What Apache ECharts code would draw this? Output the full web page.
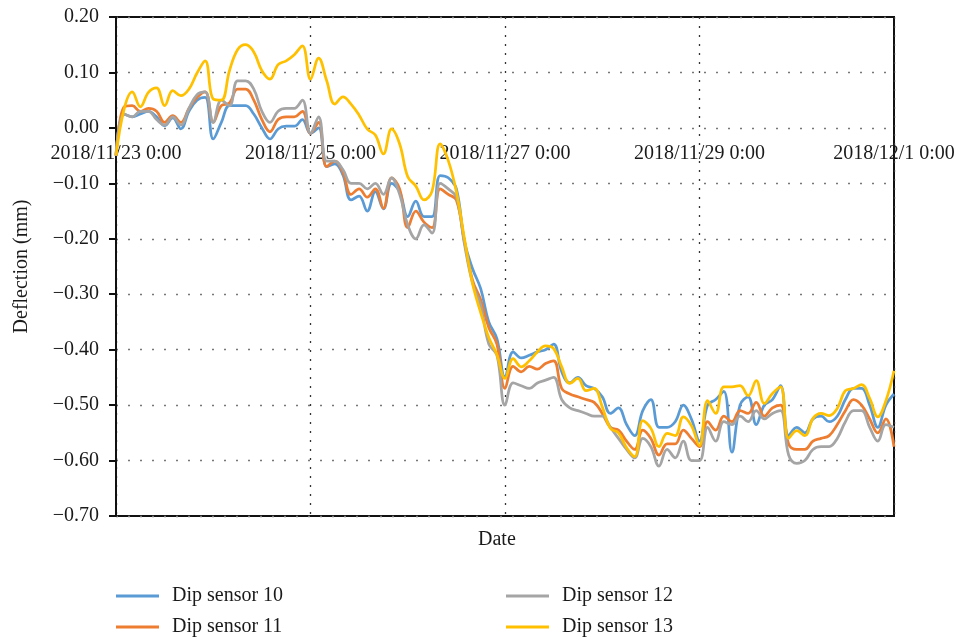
<!DOCTYPE html>
<html>
<head>
<meta charset="utf-8">
<script src="https://cdn.jsdelivr.net/npm/echarts@6/dist/echarts.min.js"></script>
<style>
html,body{margin:0;padding:0;background:#fff;}
#chart{width:963px;height:641px;}
</style>
</head>
<body>
<div id="chart"></div>
<script>
// hours since 2018/11/23 0:00, sampled every 2 hours
const hours = [0,2,4,6,8,10,12,14,16,18,20,22,24,26,28,30,32,34,36,38,40,42,44,46,48,50,52,54,56,58,60,62,64,66,68,70,72,74,76,78,80,82,84,86,88,90,92,94,96,98,100,102,104,106,108,110,112,114,116,118,120,122,124,126,128,130,132,134,136,138,140,142,144,146,148,150,152,154,156,158,160,162,164,166,168,170,172,174,176,178,180,182,184,186,188,190,192];
const xTickHours = [0,48,96,144,192];
const yTicks = [-0.7,-0.6,-0.5,-0.4,-0.3,-0.2,-0.1,0,0.1,0.2];

const sensor10 = [-0.05,0.025,0.02,0.025,0.03,0.02,0.004,0.018,-0.002,0.03,0.05,0.055,-0.02,0.01,0.04,0.04,0.04,0.025,0.0,-0.02,-0.002,0.003,0.003,0.015,-0.01,0.0,-0.07,-0.065,-0.085,-0.13,-0.123,-0.15,-0.115,-0.146,-0.1,-0.115,-0.16,-0.132,-0.16,-0.16,-0.086,-0.09,-0.11,-0.205,-0.254,-0.29,-0.35,-0.38,-0.45,-0.404,-0.415,-0.41,-0.404,-0.4,-0.39,-0.44,-0.46,-0.45,-0.465,-0.47,-0.485,-0.515,-0.505,-0.535,-0.555,-0.51,-0.49,-0.54,-0.54,-0.53,-0.5,-0.525,-0.565,-0.5,-0.49,-0.475,-0.585,-0.5,-0.485,-0.535,-0.5,-0.49,-0.465,-0.555,-0.54,-0.55,-0.525,-0.52,-0.53,-0.52,-0.49,-0.47,-0.47,-0.5,-0.54,-0.5,-0.48];
const sensor11 = [-0.05,0.038,0.04,0.03,0.035,0.03,0.01,0.022,0.01,0.035,0.055,0.065,0.01,0.04,0.045,0.07,0.07,0.05,0.015,-0.007,0.015,0.02,0.02,0.03,-0.01,0.01,-0.07,-0.06,-0.08,-0.12,-0.11,-0.125,-0.11,-0.145,-0.09,-0.11,-0.18,-0.15,-0.17,-0.18,-0.11,-0.12,-0.13,-0.205,-0.275,-0.31,-0.36,-0.39,-0.47,-0.43,-0.44,-0.43,-0.435,-0.425,-0.42,-0.47,-0.48,-0.485,-0.49,-0.495,-0.515,-0.54,-0.545,-0.565,-0.58,-0.545,-0.56,-0.59,-0.57,-0.57,-0.545,-0.56,-0.575,-0.53,-0.545,-0.52,-0.53,-0.51,-0.515,-0.495,-0.52,-0.505,-0.5,-0.57,-0.58,-0.58,-0.565,-0.56,-0.555,-0.535,-0.51,-0.49,-0.5,-0.525,-0.55,-0.525,-0.575];
const sensor12 = [-0.05,0.025,0.02,0.03,0.03,0.015,0.005,0.02,0.005,0.035,0.06,0.065,0.01,0.05,0.04,0.085,0.085,0.07,0.03,0.01,0.03,0.035,0.035,0.05,-0.01,0.02,-0.06,-0.06,-0.075,-0.1,-0.1,-0.11,-0.1,-0.12,-0.09,-0.12,-0.175,-0.2,-0.175,-0.19,-0.1,-0.11,-0.125,-0.21,-0.28,-0.32,-0.39,-0.41,-0.5,-0.46,-0.465,-0.47,-0.46,-0.455,-0.45,-0.49,-0.505,-0.51,-0.515,-0.52,-0.52,-0.54,-0.56,-0.58,-0.595,-0.56,-0.575,-0.61,-0.58,-0.595,-0.565,-0.6,-0.6,-0.54,-0.565,-0.53,-0.535,-0.52,-0.53,-0.51,-0.525,-0.515,-0.51,-0.59,-0.605,-0.6,-0.58,-0.575,-0.575,-0.56,-0.53,-0.51,-0.51,-0.54,-0.565,-0.535,-0.54];
const sensor13 = [-0.05,0.034,0.065,0.038,0.064,0.072,0.04,0.067,0.058,0.07,0.099,0.121,0.052,0.05,0.103,0.141,0.15,0.137,0.103,0.088,0.114,0.121,0.132,0.148,0.088,0.126,0.085,0.043,0.056,0.043,0.023,-0.002,-0.013,-0.047,-0.002,-0.029,-0.088,-0.105,-0.13,-0.114,-0.029,-0.059,-0.115,-0.2,-0.281,-0.333,-0.378,-0.409,-0.452,-0.416,-0.431,-0.42,-0.404,-0.393,-0.398,-0.431,-0.461,-0.452,-0.474,-0.47,-0.503,-0.542,-0.55,-0.577,-0.593,-0.528,-0.542,-0.575,-0.551,-0.555,-0.521,-0.537,-0.573,-0.492,-0.515,-0.467,-0.467,-0.465,-0.483,-0.456,-0.497,-0.479,-0.467,-0.56,-0.546,-0.555,-0.524,-0.515,-0.519,-0.506,-0.474,-0.47,-0.463,-0.488,-0.521,-0.492,-0.438];

const seriesNames = ['Dip sensor 10','Dip sensor 11','Dip sensor 12','Dip sensor 13'];
const seriesValues = [sensor10, sensor11, sensor12, sensor13];
const colors = ['#5B9BD5','#ED7D31','#A5A5A5','#FFC000'];

const FONT = '"Liberation Serif", "DejaVu Serif", serif';
const FS = 20;

function hourLabel(h) {
  const d = new Date(2018, 10, 23);
  d.setHours(d.getHours() + h);
  return d.getFullYear() + '/' + (d.getMonth() + 1) + '/' + d.getDate() + ' ' + d.getHours() + ':' + String(d.getMinutes()).padStart(2, '0');
}

const GRID = {left: 116, top: 17, right: 69, bottom: 125};
const gridHeight = 641 - GRID.top - GRID.bottom;
const yMin = yTicks[0], yMax = yTicks[yTicks.length - 1];
// move the x axis labels up to the zero line
const zeroOffset = -((0 - yMin) / (yMax - yMin)) * gridHeight;

const chart = echarts.init(document.getElementById('chart'), null, {renderer: 'canvas'});

const legendCommon = {
  orient: 'vertical', top: 585, padding: 0,
  icon: 'rect', itemWidth: 43, itemHeight: 3, itemGap: 9,
  textStyle: {fontFamily: FONT, fontSize: FS, color: '#1a1a1a', padding: [0, 0, 0, 8], lineHeight: 22}
};

const option = {
  animation: false,
  backgroundColor: '#fff',
  color: colors,
  grid: Object.assign({show: true, borderColor: '#111', borderWidth: 2, backgroundColor: 'transparent'}, GRID),
  xAxis: {
    type: 'value',
    min: xTickHours[0], max: xTickHours[xTickHours.length - 1], interval: 48,
    position: 'bottom',
    offset: zeroOffset,
    axisLine: {show: false, onZero: false},
    axisTick: {show: false},
    axisLabel: {
      show: true, margin: 16,
      fontFamily: FONT, fontSize: FS, color: '#1a1a1a',
      formatter: v => hourLabel(v)
    },
    splitLine: {show: true, lineStyle: {color: '#333', width: 1.3, type: [2, 7]}}
  },
  yAxis: {
    type: 'value',
    min: yMin, max: yMax, interval: 0.1,
    name: 'Deflection (mm)', nameLocation: 'middle', nameGap: 84, nameRotate: 90,
    nameTextStyle: {fontFamily: FONT, fontSize: FS, color: '#1a1a1a'},
    axisLine: {show: true, onZero: false, lineStyle: {color: '#111', width: 2}},
    axisTick: {show: true, inside: false, length: 7, lineStyle: {color: '#111', width: 2}},
    axisLabel: {
      margin: 17, fontFamily: FONT, fontSize: FS, color: '#1a1a1a',
      formatter: v => { const s = Math.abs(v) < 1e-9 ? '0.00' : v.toFixed(2); return s.replace('-', '\u2212'); }
    },
    splitLine: {show: true, lineStyle: {color: '#777', width: 1.3, type: [2, 10]}}
  },
  legend: [
    Object.assign({}, legendCommon, {data: [seriesNames[0], seriesNames[1]], left: 116}),
    Object.assign({}, legendCommon, {data: [seriesNames[2], seriesNames[3]], left: 506})
  ],
  graphic: [
    {type: 'text', left: 478, top: 530, style: {text: 'Date', font: FS + 'px ' + FONT, fill: '#1a1a1a'}}
  ],
  series: seriesNames.map((name, k) => ({
    name: name,
    type: 'line',
    smooth: 0.4,
    symbol: 'none',
    lineStyle: {width: 2.75, color: colors[k]},
    itemStyle: {color: colors[k]},
    data: hours.map((h, i) => [h, seriesValues[k][i]])
  }))
};
chart.setOption(option);
</script>
</body>
</html>
